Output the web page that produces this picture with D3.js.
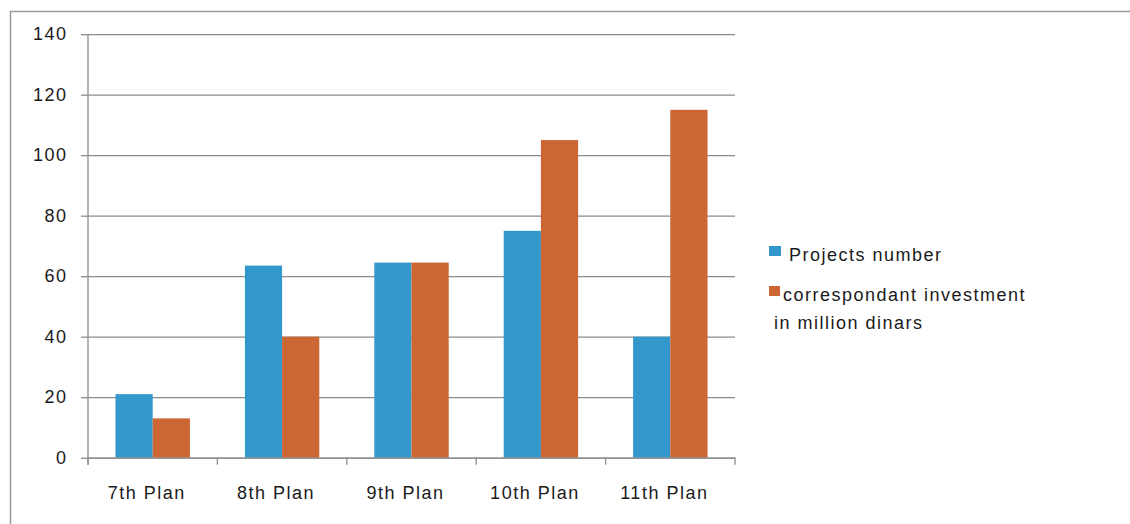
<!DOCTYPE html>
<html><head><meta charset="utf-8">
<script src="https://cdn.jsdelivr.net/npm/d3@7"></script>
<style>
html,body{margin:0;padding:0;background:#fff;}
svg text{font-family:"Liberation Sans",Arial,sans-serif;font-size:18px;letter-spacing:1.5px;fill:#1a1a1a;}
</style></head>
<body><svg id="c" width="1130" height="524"></svg>
<script>
const categories = ["7th Plan","8th Plan","9th Plan","10th Plan","11th Plan"];
const seriesNames = ["Projects number","correspondant investment"];
const projectsNumber = [21, 63.5, 64.5, 75, 40];
const investment = [13, 40, 64.5, 105, 115];
const yTicks = [0,20,40,60,80,100,120,140];
const colors = ["#3399CC","#CC6633"];

const svg = d3.select("#c");
// outer frame
svg.append("rect").attr("x",10.5).attr("y",11.5).attr("width",1300).attr("height",700)
  .attr("fill","none").attr("stroke","#9a9a9a").attr("stroke-width",1.5);

const pL=88, pR=735, pT=34.2, pB=457.7;
const y = d3.scaleLinear().domain([0,140]).range([pB,pT]);
const x0 = d3.scaleBand().domain(categories).range([pL,pR]).padding(0);
const groupW = x0.bandwidth()*0.575;
const x1 = d3.scaleBand().domain([0,1]).range([0,groupW]).padding(0);

// gridlines
const yAxis = d3.axisLeft(y).tickValues(yTicks).tickSize(-(pR-pL)).tickPadding(20.5).tickFormat(d3.format("d"));
const gy = svg.append("g").attr("transform",`translate(${pL},0)`).call(yAxis);
gy.select(".domain").remove();
gy.selectAll(".tick line").attr("stroke","#8c8c8c").attr("stroke-width",1.3);
gy.selectAll(".tick").append("line").attr("x1",-7).attr("x2",0).attr("stroke","#8c8c8c").attr("stroke-width",1.3);
gy.selectAll(".tick text").attr("fill","#1a1a1a").style("font-size","18px").style("font-family","Liberation Sans, Arial, sans-serif");

// vertical axis line
svg.append("line").attr("x1",pL).attr("x2",pL).attr("y1",pT).attr("y2",pB+7)
  .attr("stroke","#8c8c8c").attr("stroke-width",1.3);

// bars
const data = categories.map((c,i)=>({c, vals:[projectsNumber[i], investment[i]]}));
const g = svg.append("g");
data.forEach(d=>{
  const gx = x0(d.c) + (x0.bandwidth()-groupW)/2;
  d.vals.forEach((v,k)=>{
    g.append("rect").attr("x",gx+x1(k)).attr("width",x1.bandwidth())
      .attr("y",y(v)).attr("height",y(0)-y(v)).attr("fill",colors[k]);
  });
});

// x axis
const xAxis = d3.axisBottom(x0).tickSize(0).tickPadding(29);
const gxa = svg.append("g").attr("transform",`translate(0,${pB})`).call(xAxis);
gxa.select(".domain").attr("stroke","#8c8c8c").attr("stroke-width",1.3);
gxa.selectAll(".tick text").attr("dx",-6).attr("fill","#1a1a1a").style("font-size","18px").style("font-family","Liberation Sans, Arial, sans-serif");
// category boundary ticks
const bounds = categories.map(c=>x0(c)).concat([x0(categories[categories.length-1])+x0.bandwidth()]);
gxa.selectAll(".bt").data(bounds).enter().append("line").attr("class","bt")
  .attr("x1",d=>d).attr("x2",d=>d).attr("y1",0).attr("y2",7)
  .attr("stroke","#8c8c8c").attr("stroke-width",1.3);

// legend
const lg = svg.append("g");
lg.append("rect").attr("x",769).attr("y",246).attr("width",12).attr("height",10).attr("fill",colors[0]);
lg.append("text").attr("x",789).attr("y",261).text(seriesNames[0]);
lg.append("rect").attr("x",769).attr("y",286).attr("width",11).attr("height",10).attr("fill",colors[1]);
lg.append("text").attr("x",783).attr("y",301).text(seriesNames[1]);
lg.append("text").attr("x",774).attr("y",329).text("in million dinars");
</script></body></html>
